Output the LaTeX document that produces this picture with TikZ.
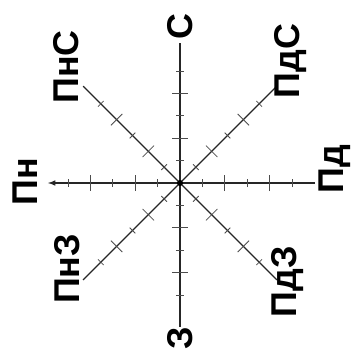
\documentclass[tikz,border=0pt]{standalone}
\usepackage{fontspec}
\setmainfont{Liberation Sans}
\usetikzlibrary{arrows, math}

\tikzset{
  axisline/.style={line width=0.8pt, color=black!85},
  tickline/.style={line width=0.6pt, color=black!70},
  dirlabel/.style={rotate=90, inner sep=0pt, font=\bfseries\fontsize{25.5}{30}\selectfont},
}

\begin{document}
\begin{tikzpicture}[x=0.025cm, y=0.025cm]
\tikzmath{
\d=22.4;
\R=137;
}
\useasboundingbox (-180,-167) rectangle (175,183);

\coordinate (O) at (0,0);
\coordinate (N) at (0,140);
\coordinate (S) at (0,-144);
\coordinate (E) at (135,0);
\coordinate (W) at (-132,0);
\coordinate (NE) at (45:\R);
\coordinate (NW) at (135:\R);
\coordinate (SW) at (225:\R);
\coordinate (SE) at (315:\R);

% axes
\draw[axisline] (S) -- (N);
\draw[axisline,-latex] (E) -- (W);
\draw[axisline] (SW) -- (NE);
\draw[axisline] (SE) -- (NW);

% ticks, long on even steps
\foreach \a in {0,45,...,315}{
  \foreach \k in {1,2,3,4,5}{
    \pgfmathsetmacro{\h}{ifthenelse(mod(\k,2)==0,8,4)}
    \draw[tickline, rotate=\a] (\k*\d,-\h) -- (\k*\d,\h);
  }
}

\fill[black] (O) circle (3);

% directions
\node[dirlabel] (lN) at (0,156) {С};
\node[dirlabel] (lNW) at (-114,116) {ПнС};
\node[dirlabel] (lNE) at (111,122) {ПдС};
\node[dirlabel] (lE) at (155,14) {Пд};
\node[dirlabel] (lSE) at (108,-99) {ПдЗ};
\node[dirlabel] (lS) at (0,-155) {З};
\node[dirlabel] (lSW) at (-113,-86) {ПнЗ};
\node[dirlabel] (lW) at (-155,1) {Пн};
\end{tikzpicture}
\end{document}
